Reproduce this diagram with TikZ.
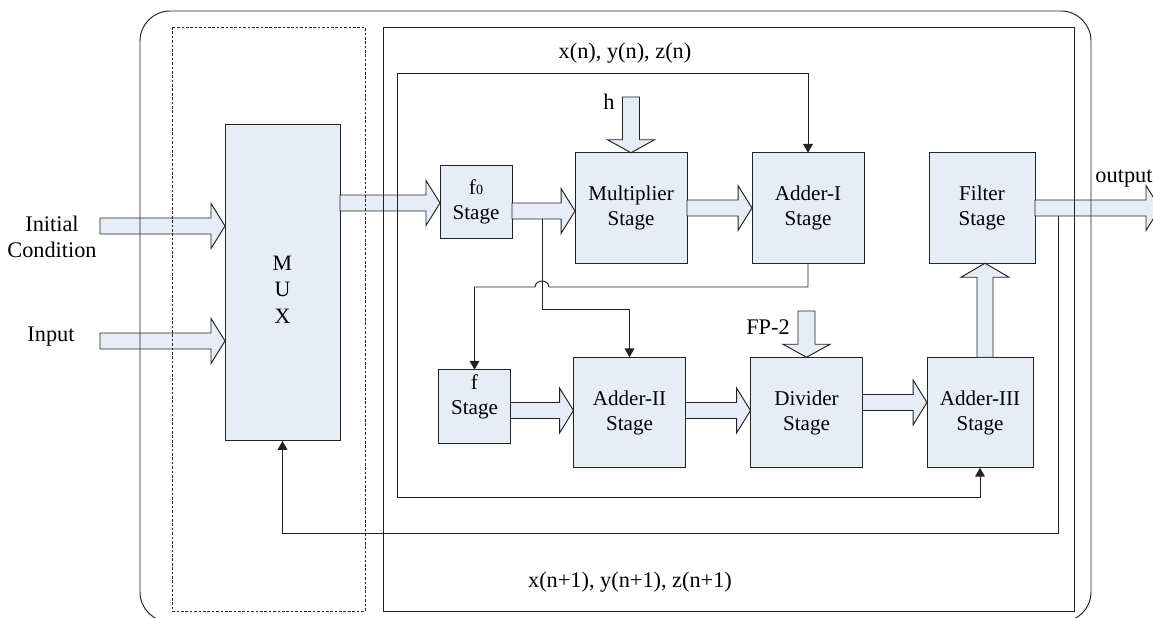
\documentclass[tikz,border=0pt]{standalone}
\usepackage{fontspec}
\setmainfont{Liberation Serif}
\usetikzlibrary{arrows.meta,calc}

\definecolor{boxfill}{RGB}{231,237,247}
\definecolor{linecol}{RGB}{35,35,35}

% block arrows, #1 = tail, #2 = tip
\newcommand{\rfat}[2]{\draw[fat] let \p1=#1, \p2=#2 in
  (\x1,\y1-0.16cm) -- (\x2-0.28cm,\y1-0.16cm) -- (\x2-0.28cm,\y1-0.45cm) -- (\x2,\y1)
  -- (\x2-0.28cm,\y1+0.45cm) -- (\x2-0.28cm,\y1+0.16cm) -- (\x1,\y1+0.16cm) -- cycle;}
\newcommand{\dfat}[2]{\draw[fat] let \p1=#1, \p2=#2 in
  (\x2-0.17cm,\y1) -- (\x2-0.17cm,\y2+0.26cm) -- (\x2-0.47cm,\y2+0.26cm) -- (\x2,\y2)
  -- (\x2+0.47cm,\y2+0.26cm) -- (\x2+0.17cm,\y2+0.26cm) -- (\x2+0.17cm,\y1) -- cycle;}
\newcommand{\ufat}[2]{\draw[fat] let \p1=#1, \p2=#2 in
  (\x2-0.16cm,\y1) -- (\x2-0.16cm,\y2-0.28cm) -- (\x2-0.48cm,\y2-0.28cm) -- (\x2,\y2)
  -- (\x2+0.48cm,\y2-0.28cm) -- (\x2+0.16cm,\y2-0.28cm) -- (\x2+0.16cm,\y1) -- cycle;}

\begin{document}
\begin{tikzpicture}[x=0.02cm, y=-0.02cm, >={Triangle[length=5pt,width=5.5pt]},
    stage/.style={draw=linecol, fill=boxfill, line width=0.55pt, inner sep=0pt, outer sep=0pt,
      align=center, font=\fontsize{12}{14.2}\selectfont},
    bigstage/.style={stage, minimum width=2.24cm, minimum height=2.21cm},
    smallstage/.style={stage, minimum width=1.44cm, minimum height=1.47cm},
    fat/.style={draw=linecol, fill=boxfill, line width=0.55pt, line join=miter},
    link/.style={draw=linecol, line width=0.55pt},
    frame/.style={draw=linecol, line width=0.55pt},
    lbl/.style={font=\fontsize{12.7}{15}\selectfont, align=center, inner sep=0pt}]
    \useasboundingbox (0,0) rectangle (1153,618);

    % MUX and stages
    \node[stage, minimum width=2.30cm, minimum height=6.34cm] (mux) at (282.5,282.5) {};
    \node[lbl, font=\fontsize{12.5}{15}\selectfont] (muxlbl) at (282.5,289.5) {M\\U\\X};
    \node[smallstage] (f0) at (476,202) {f{\fontsize{8}{8}\selectfont 0}\\Stage};
    \node[bigstage] (mult) at (631,208) {Multiplier\\Stage};
    \node[bigstage] (add1) at (808,208) {Adder-I\\Stage};
    \node[bigstage, minimum width=2.12cm] (filt) at (982,208) {Filter\\Stage};
    \node[smallstage] (f) at (474.5,406.5) {};
    \node[lbl, font=\fontsize{12}{14.2}\selectfont] (flbl) at (474.5,397) {f\\Stage};
    \node[bigstage] (add2) at (629.5,412.5) {Adder-II\\Stage};
    \node[bigstage] (div) at (806.5,412.5) {Divider\\Stage};
    \node[bigstage, minimum width=2.12cm] (add3) at (980,412.5) {Adder-III\\Stage};

    % labels
    \node[lbl] (iclbl) at (52,237) {Initial\\Condition};
    \node[lbl] (inplbl) at (51,337) {Input};
    \node[lbl] (hlbl) at (609,102) {h};
    \node[lbl] (fplbl) at (768,327) {FP-2};
    \node[lbl] (outlbl) at (1124,179) {output};
    \node[lbl] (xnlbl) at (625,53) {x(n), y(n), z(n)};
    \node[lbl] (xnextlbl) at (630,582) {x(n+1), y(n+1), z(n+1)};

    % free ends
    \coordinate (icin) at (100,226);
    \coordinate (inpin) at (100,341);
    \coordinate (hin) at (631,97);
    \coordinate (fpin) at (808,311);
    \coordinate (outtip) at (1160,208);

    % block arrows
    \rfat{(icin)}{(mux.west |- icin)}
    \rfat{(inpin)}{(mux.west |- inpin)}
    \rfat{($(mux.east |- f0.west)+(0,1)$)}{(f0.west)}
    \rfat{($(f0.east)+(0,9)$)}{(mult.west)}
    \rfat{(mult.east)}{(add1.west)}
    \rfat{(filt.east)}{(outtip)}
    \rfat{($(f.east)+(0,4)$)}{(add2.west)}
    \rfat{($(add2.east)+(0,-2)$)}{(div.west)}
    \rfat{($(div.east)+(0,-10)$)}{(add3.west)}
    \dfat{(hin)}{(mult.north)}
    \dfat{(fpin)}{(div.north)}
    \ufat{($(add3.north)+(5,0)$)}{($(filt.south)+(3,0)$)}

    % frames
    \draw[frame, rounded corners=0.6cm] (140,11) rectangle (1091,622);
    \draw[frame, dash pattern=on 1.5pt off 1pt] (172,27) rectangle (365,611);
    \draw[frame] (383,27) rectangle (1074,611);

    % x(n), y(n), z(n) loop
    \coordinate (loopTL) at (397,73);
    \coordinate (loopBL) at (397,497);
    \draw[link, <->] (add1.north) |- (loopTL) -- (loopBL) -| (add3.south);

    % Adder-I to f, hopping over the tap
    \coordinate (tap) at (542,219);
    \coordinate (hop) at (542,287);
    \draw[link, ->] (add1.south) |- ($(hop)+(7,0)$)
        arc[start angle=0, end angle=180, x radius=0.14cm, y radius=0.12cm]
        -- (f.north |- hop) -- (f.north);
    \coordinate (drop) at (542,309);
    \draw[link, ->] (tap) -- (drop) -| (add2.north);

    % feedback to MUX
    \coordinate (fbtap) at (1058,216);
    \coordinate (fbrow) at (1058,533);
    \draw[link, ->] (fbtap) -- (fbrow) -| (mux.south);
\end{tikzpicture}
\end{document}
